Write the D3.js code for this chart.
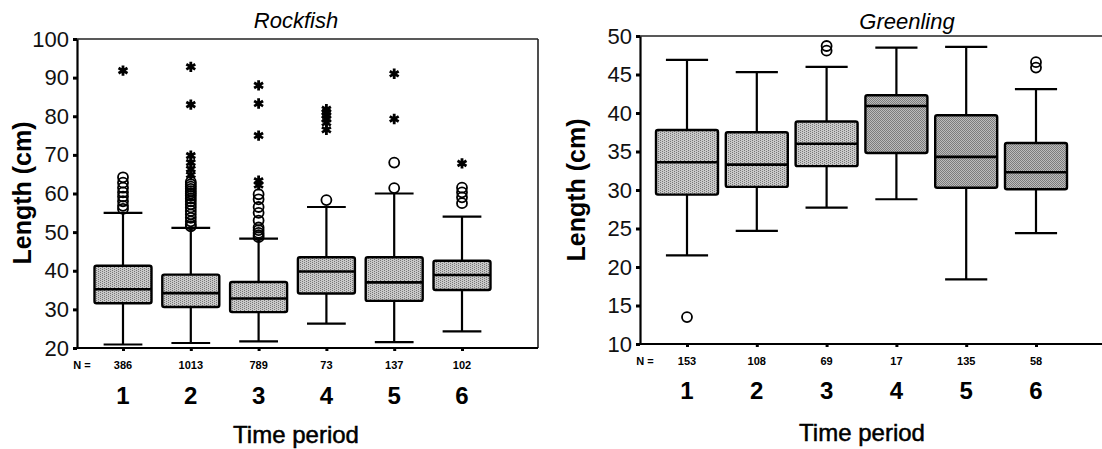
<!DOCTYPE html>
<html>
<head>
<meta charset="utf-8">
<script src="https://cdn.jsdelivr.net/npm/d3@7/dist/d3.min.js"></script>
<style>
  html, body { margin: 0; padding: 0; background: #fff; }
  svg { display: block; font-family: "Liberation Sans", Arial, Helvetica, sans-serif; }
</style>
</head>
<body>
<svg id="chart" width="1102" height="449"></svg>
<script>
// ---- Data: fish length (cm) by time period ----
const periods = [1, 2, 3, 4, 5, 6];

// Rockfish
const rockN   = [386, 1013, 789, 73, 137, 102];
const rockLo  = [20.9, 21.3, 21.7, 26.3, 21.5, 24.3];
const rockQ1  = [31.6, 30.6, 29.3, 34.1, 32.2, 35.0];
const rockMed = [35.2, 34.2, 32.8, 39.8, 37.0, 38.9];
const rockQ3  = [41.3, 39.0, 37.1, 43.5, 43.5, 42.6];
const rockHi  = [55.0, 51.1, 48.3, 56.5, 60.0, 54.0];
const rockOutliers = [
  [64.2, 62.8, 61.5, 60.3, 59.2, 58.0, 56.8, 56.0],
  [63.0, 62.4, 61.8, 61.2, 60.6, 60.0, 59.4, 58.7, 58.0, 57.2, 56.4, 55.5, 54.6, 53.7, 52.8, 52.0, 51.5],
  [59.8, 58.5, 56.5, 55.0, 53.0, 51.2, 50.5, 49.8, 49.2, 48.7],
  [58.3],
  [61.4, 68.0],
  [61.5, 60.3, 59.0, 57.5]
];
const rockExtremes = [
  [91.8],
  [92.8, 83.0, 69.8, 68.0, 66.3, 64.8],
  [88.0, 83.3, 75.0, 63.3, 62.2],
  [81.8, 81.0, 80.2, 79.3, 78.3, 76.5],
  [91.0, 79.3],
  [67.8]
];
const rockTicks = [20, 30, 40, 50, 60, 70, 80, 90, 100];

// Greenling
const greenN   = [153, 108, 69, 17, 135, 58];
const greenLo  = [21.5, 24.7, 27.7, 28.8, 18.4, 24.4];
const greenQ1  = [29.4, 30.4, 33.1, 34.8, 30.3, 30.1];
const greenMed = [33.6, 33.3, 36.0, 40.9, 34.3, 32.3];
const greenQ3  = [37.8, 37.5, 38.9, 42.3, 39.7, 36.1];
const greenHi  = [46.9, 45.3, 46.0, 48.5, 48.6, 43.1];
const greenOutliers = [[13.5], [], [48.7, 48.1], [], [], [46.6, 45.9]];
const greenExtremes = [[], [], [], [], [], []];
const greenTicks = [10, 15, 20, 25, 30, 35, 40, 45, 50];

const svg = d3.select("#chart");
const defs = svg.append("defs");

// Halftone-style fills for the boxes
function halftone(id, light, dark, dots) {
  const p = defs.append("pattern")
    .attr("id", id).attr("patternUnits", "userSpaceOnUse")
    .attr("width", 4).attr("height", 4);
  p.append("rect").attr("width", 4).attr("height", 4).attr("fill", light);
  dots.forEach(([x, y]) => p.append("rect")
    .attr("x", x).attr("y", y).attr("width", 1).attr("height", 1).attr("fill", dark));
}
halftone("fill-light", "#c9c9c9", "#767676", [[0, 0], [2, 1], [0, 2], [2, 3]]);
halftone("fill-dark", "#bcbcbc", "#7c7c7c",
  [[0, 0], [2, 0], [1, 1], [3, 1], [0, 2], [2, 2], [1, 3], [3, 3]]);

function drawPanel(cfg) {
  const g = svg.append("g");
  const y = d3.scaleLinear().domain(cfg.yDomain).range([cfg.bottom, cfg.top]);
  const x = d3.scaleLinear().domain([1, 6]).range(cfg.xRange);
  const rows = periods.map((p, i) => ({
    p, n: cfg.n[i], lo: cfg.lo[i], q1: cfg.q1[i], med: cfg.med[i], q3: cfg.q3[i], hi: cfg.hi[i],
    out: cfg.outliers[i], ext: cfg.extremes[i], fill: cfg.fills[i]
  }));

  // frame: top and right edges
  g.append("line").attr("x1", cfg.left).attr("x2", cfg.right)
    .attr("y1", cfg.top).attr("y2", cfg.top)
    .attr("stroke", "#222").attr("stroke-width", 1.6);
  g.append("line").attr("x1", cfg.right).attr("x2", cfg.right)
    .attr("y1", cfg.top).attr("y2", cfg.bottom)
    .attr("stroke", "#222").attr("stroke-width", 1.6);

  // y axis
  const yAxis = g.append("g").attr("transform", `translate(${cfg.left},0)`)
    .call(d3.axisLeft(y).tickValues(cfg.ticks).tickSize(4).tickPadding(4).tickSizeOuter(0));
  yAxis.select(".domain").attr("stroke", "#000").attr("stroke-width", 2.2);
  yAxis.selectAll(".tick line").attr("stroke", "#000").attr("stroke-width", 3);
  yAxis.selectAll(".tick text").attr("font-size", 22).attr("fill", "#111")
    .attr("font-family", "'Liberation Sans', Arial, sans-serif");

  // x axis (baseline with small ticks under each period)
  const xAxis = g.append("g").attr("transform", `translate(0,${cfg.bottom})`)
    .call(d3.axisBottom(x).tickValues(periods).tickSize(3).tickFormat("").tickSizeOuter(0));
  xAxis.select(".domain").attr("d", `M${cfg.left},0H${cfg.right}`)
    .attr("stroke", "#000").attr("stroke-width", 2.2);
  xAxis.selectAll(".tick line").attr("stroke", "#000").attr("stroke-width", 3);

  const half = cfg.boxW / 2, cap = cfg.boxW * 0.34;

  // whiskers
  g.selectAll(".whisker").data(rows).join("path")
    .attr("d", d => `M${x(d.p)},${y(d.hi)}V${y(d.q3)}M${x(d.p)},${y(d.q1)}V${y(d.lo)}` +
      `M${x(d.p) - cap},${y(d.hi)}H${x(d.p) + cap}M${x(d.p) - cap},${y(d.lo)}H${x(d.p) + cap}`)
    .attr("stroke", "#000").attr("stroke-width", 2.2).attr("fill", "none");

  // boxes
  g.selectAll(".box").data(rows).join("rect")
    .attr("x", d => x(d.p) - half).attr("width", cfg.boxW)
    .attr("y", d => y(d.q3)).attr("height", d => y(d.q1) - y(d.q3))
    .attr("rx", 2)
    .attr("fill", d => `url(#${d.fill})`)
    .attr("stroke", "#000").attr("stroke-width", 2.4);

  // medians
  g.selectAll(".median").data(rows).join("line")
    .attr("x1", d => x(d.p) - half).attr("x2", d => x(d.p) + half)
    .attr("y1", d => y(d.med)).attr("y2", d => y(d.med))
    .attr("stroke", "#000").attr("stroke-width", 2.6);

  // outliers (open circles)
  const outs = rows.flatMap(d => d.out.map(v => ({ p: d.p, v })));
  g.selectAll(".outlier").data(outs).join("circle")
    .attr("cx", d => x(d.p)).attr("cy", d => y(d.v)).attr("r", 5)
    .attr("fill", "none").attr("stroke", "#000").attr("stroke-width", 1.8);

  // extremes (asterisks)
  const exts = rows.flatMap(d => d.ext.map(v => ({ p: d.p, v })));
  const star = d3.symbol().type(d3.symbolAsterisk).size(75);
  g.selectAll(".extreme").data(exts).join("path")
    .attr("transform", d => `translate(${x(d.p)},${y(d.v)})`)
    .attr("d", star)
    .attr("fill", "none").attr("stroke", "#000").attr("stroke-width", 2.8);

  // N labels
  g.append("text").attr("x", cfg.left + 5).attr("y", cfg.nY)
    .attr("text-anchor", "middle").attr("font-size", 11).attr("font-weight", "bold")
    .text("N =");
  g.selectAll(".nlab").data(rows).join("text")
    .attr("x", d => x(d.p)).attr("y", cfg.nY)
    .attr("text-anchor", "middle").attr("font-size", 11).attr("font-weight", "bold")
    .text(d => d.n);

  // period numbers
  g.selectAll(".plab").data(rows).join("text")
    .attr("x", d => x(d.p)).attr("y", cfg.pY)
    .attr("text-anchor", "middle").attr("font-size", 24).attr("font-weight", "bold")
    .text(d => d.p);

  // axis titles
  g.append("text").attr("x", cfg.xTitleX).attr("y", cfg.xTitleY)
    .attr("text-anchor", "middle").attr("font-size", 24)
    .attr("stroke", "#000").attr("stroke-width", 0.5)
    .text("Time period");
  g.append("text")
    .attr("transform", `translate(${cfg.yTitleX},${cfg.yTitleY}) rotate(-90)`)
    .attr("text-anchor", "middle").attr("font-size", 25).attr("font-weight", "bold")
    .text("Length (cm)");

  // panel title
  g.append("text").attr("x", cfg.titleX).attr("y", cfg.titleY)
    .attr("text-anchor", "middle").attr("font-size", 22).attr("font-style", "italic")
    .text(cfg.title);
}

drawPanel({
  title: "Rockfish", titleX: 296, titleY: 28,
  left: 77, right: 538, top: 39, bottom: 348,
  yDomain: [20, 100], ticks: rockTicks, xRange: [123, 462], boxW: 57,
  n: rockN, lo: rockLo, q1: rockQ1, med: rockMed, q3: rockQ3, hi: rockHi,
  outliers: rockOutliers, extremes: rockExtremes,
  fills: ["fill-light", "fill-light", "fill-light", "fill-light", "fill-light", "fill-light"],
  nY: 369, pY: 404, xTitleX: 296, xTitleY: 443, yTitleX: 31, yTitleY: 193
});

drawPanel({
  title: "Greenling", titleX: 907, titleY: 29,
  left: 640, right: 1114, top: 36, bottom: 344,
  yDomain: [10, 50], ticks: greenTicks, xRange: [687, 1036], boxW: 62,
  n: greenN, lo: greenLo, q1: greenQ1, med: greenMed, q3: greenQ3, hi: greenHi,
  outliers: greenOutliers, extremes: greenExtremes,
  fills: ["fill-light", "fill-light", "fill-light", "fill-dark", "fill-dark", "fill-dark"],
  nY: 365, pY: 399, xTitleX: 862, xTitleY: 441, yTitleX: 585, yTitleY: 190
});
</script>
</body>
</html>
